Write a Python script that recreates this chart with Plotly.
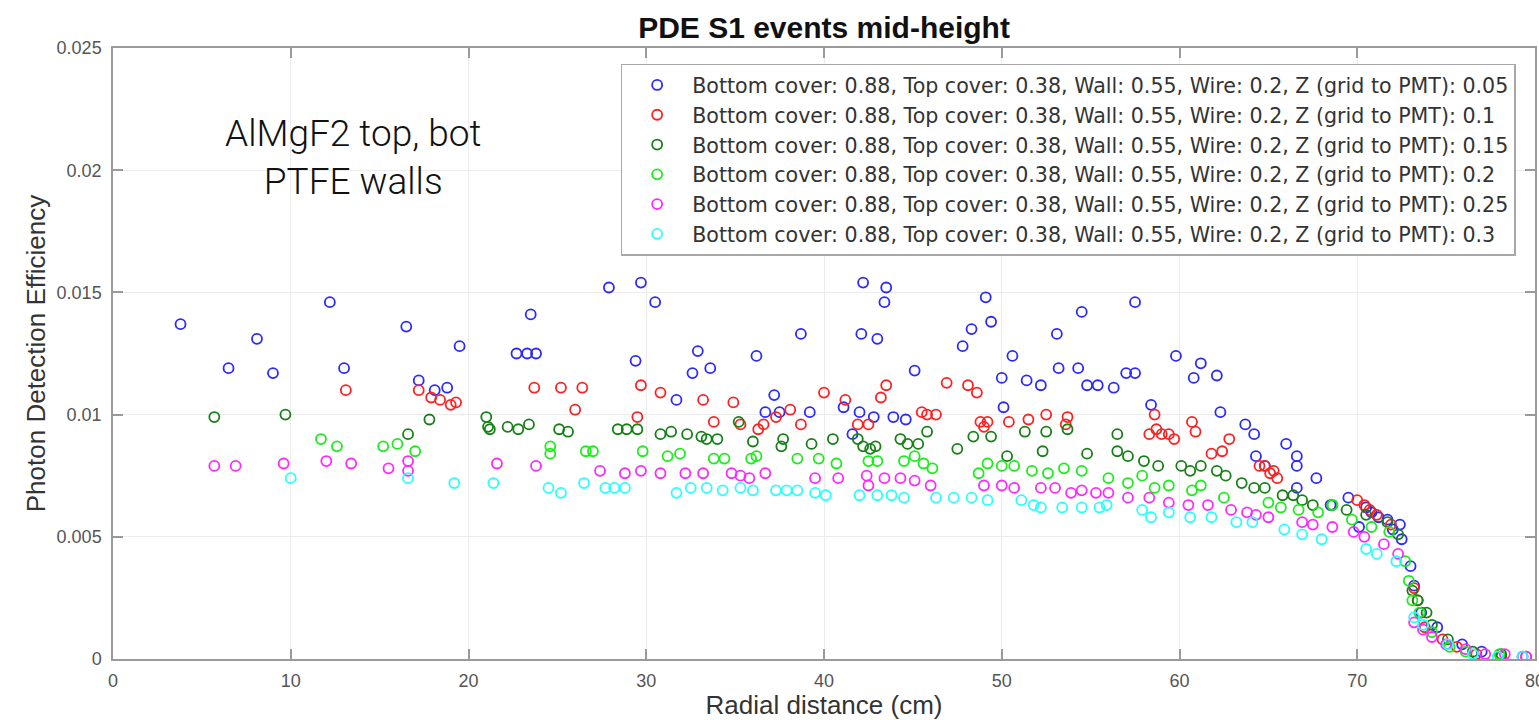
import plotly.graph_objects as go

# ---------------- data ----------------
labels = [
    "Bottom cover: 0.88, Top cover: 0.38, Wall: 0.55, Wire: 0.2, Z (grid to PMT): 0.05",
    "Bottom cover: 0.88, Top cover: 0.38, Wall: 0.55, Wire: 0.2, Z (grid to PMT): 0.1",
    "Bottom cover: 0.88, Top cover: 0.38, Wall: 0.55, Wire: 0.2, Z (grid to PMT): 0.15",
    "Bottom cover: 0.88, Top cover: 0.38, Wall: 0.55, Wire: 0.2, Z (grid to PMT): 0.2",
    "Bottom cover: 0.88, Top cover: 0.38, Wall: 0.55, Wire: 0.2, Z (grid to PMT): 0.25",
    "Bottom cover: 0.88, Top cover: 0.38, Wall: 0.55, Wire: 0.2, Z (grid to PMT): 0.3",
]
colors = ["#2a2aff", "#ff2020", "#168016", "#18ee18", "#ff28ff", "#28ffff"]

x_z005 = [3.8, 6.5, 8.1, 9.0, 12.2, 13.0, 16.5, 17.2, 18.1, 18.8, 19.5, 22.7, 23.3, 23.8, 23.5,
          27.9, 29.7, 30.5, 29.4, 31.7, 32.6, 32.9, 33.6, 36.2, 37.2, 36.7, 37.5, 38.7, 39.2, 41.1,
          41.6, 42.2, 43.5, 43.4, 42.1, 43.0, 42.0, 42.8, 43.9, 44.6, 45.1, 47.8, 48.3, 49.1, 49.4,
          50.0, 50.1, 50.6, 51.4, 52.2, 53.1, 53.2, 54.3, 54.5, 54.8, 55.4, 56.3, 57.0, 57.5, 57.5,
          58.4, 59.8, 60.8, 61.2, 62.1, 62.3, 63.7, 64.2, 64.3, 64.8, 66.0, 66.6, 66.6, 66.6, 67.7,
          68.5, 69.5, 70.1, 70.5, 71.7, 72.4, 72.5, 73.6, 74.5, 75.9, 77.0, 78.1, 79.3,
          70.8, 71.2, 72.0, 73.2, 73.0]
y_z005 = [0.0137, 0.0119, 0.0131, 0.0117, 0.0146, 0.0119, 0.0136, 0.0114, 0.0110, 0.0111, 0.0128,
          0.0125, 0.0125, 0.0125, 0.0141, 0.0152, 0.0154, 0.0146, 0.0122, 0.0106, 0.0117, 0.0126,
          0.0119, 0.0124, 0.0108, 0.0101, 0.0101, 0.0133, 0.0101, 0.0103, 0.0092, 0.0154, 0.0152,
          0.0146, 0.0133, 0.0131, 0.0101, 0.0099, 0.0099, 0.0098, 0.0118, 0.0128, 0.0135, 0.0148,
          0.0138, 0.0115, 0.0103, 0.0124, 0.0114, 0.0112, 0.0133, 0.0119, 0.0119, 0.0142, 0.0112,
          0.0112, 0.0111, 0.0117, 0.0117, 0.0146, 0.0104, 0.0124, 0.0115, 0.0121, 0.0116, 0.0101,
          0.0096, 0.0092, 0.0083, 0.0079, 0.0088, 0.0083, 0.0079, 0.0070, 0.0074, 0.0063, 0.0066,
          0.0054, 0.0062, 0.0057, 0.0055, 0.0049, 0.0019, 0.0013, 0.0006, 0.0003, 0.0001, 0.0001,
          0.0060, 0.0058, 0.0053, 0.0030, 0.0038]

x_z010 = [13.1, 17.2, 17.9, 18.4, 19.0, 19.3, 23.7, 25.2, 26.4, 26.0, 29.7, 29.5, 30.8, 33.2, 34.9,
          33.8, 35.3, 36.3, 36.6, 37.3, 38.1, 38.7, 40.0, 41.2, 41.9, 42.5, 43.2, 43.5, 45.5, 45.8,
          46.3, 46.9, 48.1, 48.6, 48.8, 49.0, 49.2, 50.4, 51.5, 52.5, 53.7, 53.6, 58.6, 58.3, 58.7,
          59.0, 59.4, 59.7, 60.7, 60.9, 61.8, 62.4, 62.8, 64.5, 64.8, 65.1, 65.3, 65.5, 70.0, 70.4,
          70.7, 71.1, 71.9, 73.2, 73.4, 73.8, 74.8, 75.6, 76.7, 78.1, 79.5]
y_z010 = [0.0110, 0.0110, 0.0107, 0.0106, 0.0104, 0.0105, 0.0111, 0.0111, 0.0111, 0.0102, 0.0112,
          0.0099, 0.0109, 0.0106, 0.0105, 0.0097, 0.0096, 0.0094, 0.0096, 0.0099, 0.0102, 0.0096,
          0.0109, 0.0106, 0.0096, 0.0096, 0.0107, 0.0112, 0.0101, 0.0100, 0.0100, 0.0113, 0.0112,
          0.0109, 0.0097, 0.0095, 0.0097, 0.0097, 0.0098, 0.0100, 0.0099, 0.0096, 0.0100, 0.0092,
          0.0094, 0.0092, 0.0092, 0.0090, 0.0097, 0.0093, 0.0084, 0.0085, 0.0090, 0.0079, 0.0079,
          0.0076, 0.0077, 0.0074, 0.0065, 0.0063, 0.0061, 0.0059, 0.0055, 0.0029, 0.0024, 0.0013,
          0.0008, 0.0005, 0.0002, 0.0001, 0.0001]

x_z015 = [5.7, 9.7, 17.8, 16.6, 21.0, 21.1, 21.2, 22.2, 22.8, 23.4, 25.1, 25.6, 28.4, 28.9, 29.5,
          30.8, 31.4, 32.3, 33.1, 33.4, 34.0, 35.2, 36.0, 37.7, 37.6, 39.3, 40.5, 41.9, 42.2, 42.6,
          42.9, 44.3, 44.7, 45.3, 45.8, 47.5, 48.4, 49.4, 50.3, 51.3, 52.5, 52.3, 53.7, 54.8, 56.5,
          57.1, 58.0, 58.8, 56.5, 60.1, 60.6, 61.2, 62.1, 62.6, 63.5, 64.2, 64.8, 65.8, 66.4, 66.9,
          67.5, 68.6, 69.4, 70.5, 71.7, 72.3, 73.1, 73.4, 73.9, 74.2, 75.1, 76.5, 78.1]
y_z015 = [0.0099, 0.0100, 0.0098, 0.0092, 0.0099, 0.0095, 0.0094, 0.0095, 0.0094, 0.0096, 0.0094,
          0.0093, 0.0094, 0.0094, 0.0094, 0.0092, 0.0093, 0.0092, 0.0091, 0.0090, 0.0090, 0.0097,
          0.0089, 0.0090, 0.0087, 0.0088, 0.0090, 0.0090, 0.0087, 0.0086, 0.0087, 0.0090, 0.0088,
          0.0088, 0.0093, 0.0086, 0.0091, 0.0091, 0.0083, 0.0093, 0.0093, 0.0085, 0.0094, 0.0084,
          0.0085, 0.0083, 0.0081, 0.0079, 0.0092, 0.0079, 0.0077, 0.0079, 0.0077, 0.0075, 0.0072,
          0.0070, 0.0070, 0.0067, 0.0067, 0.0065, 0.0063, 0.0063, 0.0061, 0.0059, 0.0056, 0.0051,
          0.0028, 0.0024, 0.0019, 0.0014, 0.0008, 0.0003, 0.0002]

x_z020 = [11.7, 12.6, 15.2, 16.0, 17.0, 24.6, 24.6, 26.6, 27.0, 29.8, 31.2, 31.9, 33.8, 34.4, 35.9,
          36.2, 38.5, 39.7, 40.7, 42.5, 43.0, 44.5, 45.1, 45.6, 46.1, 48.7, 49.2, 50.0, 50.7, 51.7,
          52.6, 53.5, 54.5, 56.0, 57.1, 57.9, 58.6, 59.4, 60.7, 61.2, 62.5, 65.0, 65.7, 66.7, 67.8,
          68.6, 69.7, 70.8, 71.8, 72.7, 72.9, 73.1, 73.5, 74.2, 75.2, 76.1, 78.0]
y_z020 = [0.0090, 0.0087, 0.0087, 0.0088, 0.0085, 0.0087, 0.0084, 0.0085, 0.0085, 0.0085, 0.0083,
          0.0084, 0.0082, 0.0082, 0.0082, 0.0083, 0.0082, 0.0082, 0.0080, 0.0081, 0.0081, 0.0081,
          0.0083, 0.0080, 0.0078, 0.0076, 0.0080, 0.0079, 0.0079, 0.0077, 0.0076, 0.0078, 0.0077,
          0.0074, 0.0072, 0.0075, 0.0070, 0.0071, 0.0069, 0.0071, 0.0066, 0.0064, 0.0062, 0.0061,
          0.0060, 0.0063, 0.0057, 0.0054, 0.0052, 0.0040, 0.0032, 0.0024, 0.0019, 0.0011, 0.0005,
          0.0003, 0.0002]

x_z025 = [5.7, 6.9, 9.6, 12.0, 13.4, 15.5, 16.6, 16.6, 21.6, 23.8, 27.4, 28.8, 29.7, 30.8, 32.2,
          33.2, 34.8, 35.3, 35.8, 36.7, 39.5, 40.8, 42.4, 42.5, 43.4, 44.3, 45.1, 46.0, 49.0, 50.0,
          50.7, 52.2, 53.0, 53.9, 56.0, 57.1, 58.3, 59.4, 60.5, 61.6, 62.9, 65.0, 66.9, 68.6, 70.4,
          72.3, 73.2, 74.2, 76.1, 78.3, 79.5,
          54.5, 55.3, 63.8, 64.3, 67.5, 69.8, 71.5, 73.7, 75.0, 77.2]
y_z025 = [0.0079, 0.0079, 0.0080, 0.0081, 0.0080, 0.0078, 0.0081, 0.0077, 0.0080, 0.0079, 0.0077,
          0.0076, 0.0077, 0.0076, 0.0076, 0.0076, 0.0076, 0.0075, 0.0074, 0.0076, 0.0074, 0.0074,
          0.0075, 0.0071, 0.0074, 0.0074, 0.0073, 0.0071, 0.0071, 0.0071, 0.0070, 0.0070, 0.0070,
          0.0068, 0.0068, 0.0066, 0.0066, 0.0064, 0.0063, 0.0063, 0.0061, 0.0058, 0.0056, 0.0054,
          0.0050, 0.0043, 0.0015, 0.0009, 0.0004, 0.0002, 0.0001,
          0.0069, 0.0068, 0.0060, 0.0059, 0.0055, 0.0052, 0.0047, 0.0012, 0.0006, 0.0002]

x_z030 = [10.0, 16.6, 19.2, 21.4, 24.5, 25.2, 26.5, 27.7, 28.2, 28.8, 31.7, 32.5, 33.4, 34.3, 35.3,
          36.0, 37.3, 37.9, 38.5, 39.5, 40.1, 42.0, 43.0, 43.8, 44.5, 46.3, 47.3, 48.3, 49.2, 51.1,
          51.8, 52.2, 53.4, 54.5, 55.5, 55.9, 57.9, 58.4, 59.4, 60.6, 61.8, 63.2, 64.1, 65.9, 66.9,
          68.0, 70.5, 71.1, 72.2, 73.2, 73.7, 75.1, 76.5, 77.9, 79.3]
y_z030 = [0.0074, 0.0074, 0.0072, 0.0072, 0.0070, 0.0068, 0.0072, 0.0070, 0.0070, 0.0070, 0.0068,
          0.0070, 0.0070, 0.0069, 0.0070, 0.0069, 0.0069, 0.0069, 0.0069, 0.0068, 0.0067, 0.0067,
          0.0067, 0.0067, 0.0066, 0.0066, 0.0066, 0.0066, 0.0065, 0.0065, 0.0063, 0.0062, 0.0062,
          0.0062, 0.0062, 0.0063, 0.0061, 0.0058, 0.0060, 0.0058, 0.0058, 0.0056, 0.0056, 0.0053,
          0.0051, 0.0049, 0.0045, 0.0043, 0.0040, 0.0017, 0.0014, 0.0006, 0.0002, 0.0001, 0.0001]

x_ticks = [0, 10, 20, 30, 40, 50, 60, 70, 80]
y_ticks = [0, 0.005, 0.01, 0.015, 0.02, 0.025]
y_tick_text = ["0", "0.005", "0.01", "0.015", "0.02", "0.025"]

series_x = [x_z005, x_z010, x_z015, x_z020, x_z025, x_z030]
series_y = [y_z005, y_z010, y_z015, y_z020, y_z025, y_z030]

# ---------------- figure ----------------
FONT = "Liberation Sans, Arial, Helvetica, sans-serif"
LEGFONT = "DejaVu Sans, Verdana, sans-serif"
fig = go.Figure()
for xs, ys, lab, col in zip(series_x, series_y, labels, colors):
    fig.add_trace(go.Scatter(
        x=xs, y=ys, mode="markers", name=lab,
        marker=dict(symbol="circle-open", size=10, color=col, line=dict(width=1.8)),
    ))

axis_common = dict(
    showline=True, linecolor="#9a9a9a", linewidth=1.5, mirror="allticks",
    ticks="inside", ticklen=10, tickwidth=1.5, tickcolor="#9a9a9a",
    showgrid=True, gridcolor="#ececec", gridwidth=1, zeroline=False,
    tickfont=dict(family=FONT, size=18, color="#555555"),
    ticklabeloverflow="allow",
)

fig.update_xaxes(range=[0, 80], tickvals=x_ticks, ticktext=[str(t) for t in x_ticks],
                 title=dict(text="Radial distance (cm)", font=dict(family=FONT, size=26, color="#333333"),
                            standoff=11),
                 ticklabelstandoff=5, **axis_common)
fig.update_yaxes(range=[0, 0.025], tickvals=y_ticks, ticktext=y_tick_text,
                 title=dict(text="Photon Detection Efficiency", font=dict(family=FONT, size=26, color="#333333"),
                            standoff=4),
                 ticklabelstandoff=6, **axis_common)

fig.update_layout(
    width=1539, height=720,
    margin=dict(l=113, r=4, t=48, b=61, autoexpand=False),
    paper_bgcolor="white", plot_bgcolor="white",
    title=dict(text="<b>PDE S1 events mid-height</b>", x=0.5, xref="paper", xanchor="center",
               y=1 - 27 / 720, yref="container", yanchor="middle",
               font=dict(family=FONT, size=30, color="#111111")),
    legend=dict(x=0.357, y=0.9745, xanchor="left", yanchor="top",
                bgcolor="white", bordercolor="#a8a8a8", borderwidth=1.5,
                font=dict(family=LEGFONT, size=20.6, color="#333333"),
                itemwidth=60, tracegroupgap=0),
    showlegend=True,
    annotations=[dict(
        text="AlMgF2 top, bot<br>PTFE walls", x=13.5, y=0.0205, xref="x", yref="y",
        showarrow=False, align="center",
        font=dict(family="Roboto, Lato, sans-serif", size=37, color="#111111", weight=300),
    )],
)

fig.write_html("out.html", config={"displayModeBar": False},
               post_script="document.body.style.margin='0';document.body.style.overflow='hidden';")
